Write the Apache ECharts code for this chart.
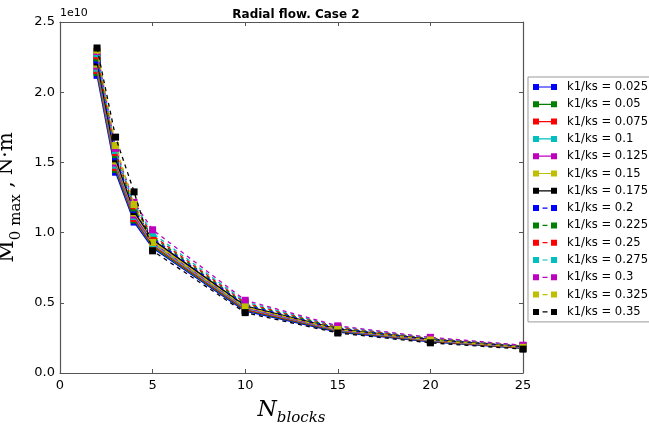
<!DOCTYPE html>
<html>
<head>
<meta charset="utf-8">
<script src="https://cdn.jsdelivr.net/npm/echarts@6/dist/echarts.min.js"></script>
<style>html,body{margin:0;padding:0;background:#fff;}#c{width:649px;height:428px;}</style>
</head>
<body>
<div id="c"></div>
<script>
// Data (values in units of 1e10 N·m)
const nBlocks = [2, 3, 4, 5, 10, 15, 20, 25];
const ratioLabels = ['0.025','0.05','0.075','0.1','0.125','0.15','0.175','0.2','0.225','0.25','0.275','0.3','0.325','0.35'];
const s0025 = [2.12, 1.43, 1.075, 0.89, 0.440, 0.292, 0.222, 0.175];
const s005  = [2.14, 1.45, 1.09, 0.90, 0.447, 0.296, 0.225, 0.178];
const s0075 = [2.155, 1.465, 1.10, 0.91, 0.453, 0.300, 0.228, 0.180];
const s01   = [2.17, 1.48, 1.115, 0.92, 0.460, 0.304, 0.231, 0.182];
const s0125 = [2.185, 1.495, 1.125, 0.93, 0.466, 0.308, 0.234, 0.184];
const s015  = [2.20, 1.51, 1.14, 0.94, 0.472, 0.312, 0.237, 0.186];
const s0175 = [2.215, 1.525, 1.15, 0.95, 0.478, 0.315, 0.240, 0.188];
const s02   = [2.23, 1.54, 1.165, 0.96, 0.485, 0.319, 0.242, 0.190];
const s0225 = [2.245, 1.555, 1.175, 0.97, 0.492, 0.323, 0.245, 0.192];
const s025  = [2.26, 1.57, 1.19, 0.98, 0.499, 0.327, 0.248, 0.194];
const s0275 = [2.275, 1.585, 1.20, 0.995, 0.507, 0.331, 0.251, 0.196];
const s03   = [2.29, 1.60, 1.215, 1.02, 0.518, 0.336, 0.254, 0.198];
const s0325 = [2.30, 1.62, 1.20, 0.93, 0.470, 0.310, 0.235, 0.183];
const s035  = [2.315, 1.68, 1.29, 0.87, 0.430, 0.285, 0.215, 0.170];
const seriesValues = [s0025, s005, s0075, s01, s0125, s015, s0175, s02, s0225, s025, s0275, s03, s0325, s035];
const xTicks = [0, 5, 10, 15, 20, 25];
const yTicks = [0.0, 0.5, 1.0, 1.5, 2.0, 2.5];

const colors = ['#0000ff','#008000','#ff0000','#00bfbf','#bf00bf','#bfbf00','#000000'];
const solidIcon = 'path://M0,0h6v6h-6z M18,0h6v6h-6z M6,2.4h12v1.2h-12z';
const dashIcon = 'path://M0,0h6v6h-6z M18,0h6v6h-6z M9.5,2.4h5v1.2h-5z';

const series = seriesValues.map((vals, i) => ({
  name: 'k1/ks = ' + ratioLabels[i],
  type: 'line',
  data: nBlocks.map((x, j) => [x, vals[j]]),
  symbol: 'rect',
  symbolSize: 7,
  color: colors[i % 7],
  lineStyle: { width: 1.3, type: i < 7 ? 'solid' : [4, 4] },
  itemStyle: { color: colors[i % 7] },
  emphasis: { disabled: true },
  animation: false,
  z: 2 + i
}));

const chart = echarts.init(document.getElementById('c'), null, { renderer: 'canvas' });
const axisCol = '#555';
const labelStyle = { color: '#000', fontSize: 13, fontFamily: 'DejaVu Sans' };
chart.setOption({
  animation: false,
  backgroundColor: '#fff',
  title: {
    text: 'Radial flow. Case 2',
    left: 291, top: 4, textAlign: 'center',
    textStyle: { fontSize: 12, fontWeight: 'bold', fontFamily: 'DejaVu Sans', color: '#000' }
  },
  grid: { left: 60, right: 126, top: 22, bottom: 55, containLabel: false, outerBoundsMode: 'none' },
  legend: {
    orient: 'vertical',
    left: 528, top: 77,
    itemWidth: 24, itemHeight: 6, itemGap: 5.3,
    padding: [4, 10, 4, 5],
    borderColor: '#999', borderWidth: 1, backgroundColor: '#fff',
    textStyle: { fontSize: 11.6, fontFamily: 'DejaVu Sans', color: '#000', padding: [0, 0, 0, 5] },
    data: series.map((s, i) => ({ name: s.name, icon: i < 7 ? solidIcon : dashIcon }))
  },
  xAxis: [{
    type: 'value', min: 0, max: 25, interval: 5, position: 'bottom',
    name: '{n|N}{s|blocks}', nameLocation: 'middle', nameGap: 26,
    nameTextStyle: {
      rich: {
        n: { fontSize: 22, fontFamily: 'DejaVu Serif', fontStyle: 'italic', color: '#000', verticalAlign: 'top' },
        s: { fontSize: 15, fontFamily: 'DejaVu Serif', fontStyle: 'italic', color: '#000', verticalAlign: 'bottom', padding: [12, 0, 0, 0] }
      }
    },
    axisLine: { show: true, onZero: false, lineStyle: { color: axisCol, width: 1.2 } },
    axisTick: { show: true, inside: true, length: 4, lineStyle: { color: axisCol } },
    axisLabel: Object.assign({ margin: 6, formatter: v => String(v) }, labelStyle),
    splitLine: { show: false }
  }, {
    type: 'value', min: 0, max: 25, interval: 5, position: 'top',
    axisLine: { show: true, onZero: false, lineStyle: { color: axisCol, width: 1.2 } },
    axisTick: { show: true, inside: true, length: 4, lineStyle: { color: axisCol } },
    axisLabel: { show: false }, splitLine: { show: false }
  }],
  yAxis: [{
    type: 'value', min: 0, max: 2.5, interval: 0.5, position: 'left',
    name: '{m|M}{s|0 max}{t| , N·m}', nameLocation: 'middle', nameGap: 36, nameRotate: 90,
    nameTextStyle: {
      rich: {
        m: { fontSize: 22, fontFamily: 'DejaVu Serif', color: '#000', verticalAlign: 'top' },
        s: { fontSize: 15, fontFamily: 'DejaVu Serif', color: '#000', verticalAlign: 'bottom', padding: [12, 0, 0, 0] },
        t: { fontSize: 20, fontFamily: 'DejaVu Serif', color: '#000', verticalAlign: 'top' }
      }
    },
    axisLine: { show: true, onZero: false, lineStyle: { color: axisCol, width: 1.2 } },
    axisTick: { show: true, inside: true, length: 4, lineStyle: { color: axisCol } },
    axisLabel: Object.assign({ margin: 5, formatter: v => v.toFixed(1) }, labelStyle),
    splitLine: { show: false }
  }, {
    type: 'value', min: 0, max: 2.5, interval: 0.5, position: 'right',
    axisLine: { show: true, onZero: false, lineStyle: { color: axisCol, width: 1.2 } },
    axisTick: { show: true, inside: true, length: 4, lineStyle: { color: axisCol } },
    axisLabel: { show: false }, splitLine: { show: false }
  }],
  graphic: [{
    type: 'text', left: 60, top: 8,
    style: { text: '1e10', fontSize: 11, fontFamily: 'DejaVu Sans', fill: '#000' }
  }],
  series: series
});
</script>
</body>
</html>
